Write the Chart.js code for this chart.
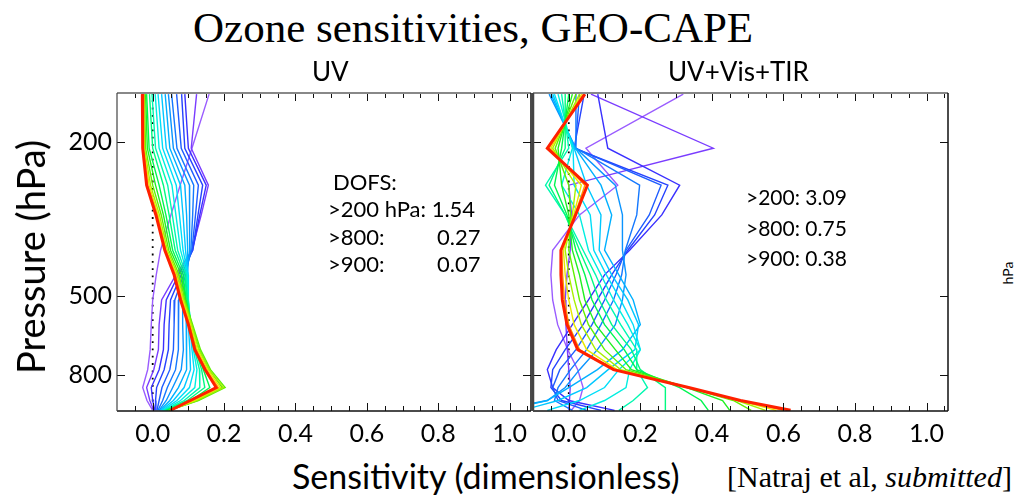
<!DOCTYPE html>
<html>
<head>
<meta charset="utf-8">
<script src="https://cdn.jsdelivr.net/npm/chart.js@4.4.1/dist/chart.umd.min.js"></script>
<style>
  html, body { margin: 0; padding: 0; background: #fff; }
  body { width: 1025px; height: 501px; position: relative; overflow: hidden; font-family: Lato, sans-serif; color: #000; }
  canvas { position: absolute; }
  .txt { position: absolute; white-space: nowrap; line-height: 1; }
  .serif { font-family: 'Liberation Serif', serif; }
  .rot { transform: translate(-50%, -50%) rotate(-90deg); }
</style>
</head>
<body>
<canvas id="uvChart" width="545" height="365" style="left:0; top:85px;"></canvas>
<canvas id="allChart" width="480" height="365" style="left:500px; top:85px;"></canvas>

<div class="txt serif" style="left:193px; top:6px; font-size:43px;">Ozone sensitivities, GEO-CAPE</div>
<div class="txt" style="left:312px; top:58px; font-size:26px;">UV</div>
<div class="txt" style="left:668px; top:58px; font-size:26px;">UV+Vis+TIR</div>

<div class="txt" style="left:333px; top:171px; font-size:22px;">DOFS:</div>
<div class="txt" style="left:328px; top:198px; font-size:22px;">&gt;200 hPa: 1.54</div>
<div class="txt" style="left:328px; top:226px; font-size:22px;">&gt;800:</div>
<div class="txt" style="left:437px; top:226px; font-size:22px;">0.27</div>
<div class="txt" style="left:328px; top:253px; font-size:22px;">&gt;900:</div>
<div class="txt" style="left:437px; top:253px; font-size:22px;">0.07</div>

<div class="txt" style="left:746px; top:186px; font-size:21px;">&gt;200: 3.09</div>
<div class="txt" style="left:746px; top:217px; font-size:21px;">&gt;800: 0.75</div>
<div class="txt" style="left:746px; top:247px; font-size:21px;">&gt;900: 0.38</div>

<div class="txt rot" style="left:30px; top:257px; font-size:38px;">Pressure (hPa)</div>
<div class="txt rot" style="left:1008px; top:273px; font-size:14px;">hPa</div>
<div class="txt" style="left:292px; top:459px; font-size:34px;">Sensitivity (dimensionless)</div>
<div class="txt serif" style="left:727px; top:462px; font-size:30px;">[Natraj et al, <i>submitted</i>]</div>

<script>
// pressure levels (hPa) of the profile vertices, top to bottom
const pressureLevels = [150, 207, 258, 308, 380, 440, 511, 592, 687, 774, 861, 930, 986];
const xTickValues = [0, 0.2, 0.4, 0.6, 0.8, 1.0];
const yTickValues = [200, 500, 800];

// purple -> blue -> cyan -> green -> yellow -> red, last one drawn thick
const lineColors = [
  '#9a5cff', '#7a3cff', '#3a30ff', '#2542ff', '#1e5cff',
  '#1478ff', '#0a94ff', '#00b0ff', '#00c8ff', '#00def8',
  '#00eee0', '#00f8b0', '#00fa80', '#00f550', '#20f020',
  '#60f000', '#a8f000', '#e8e800', '#ffa000', '#ff2000',
];

// UV only, one row per profile, values at pressureLevels
const uvProfiles = [
  [0.158, 0.110, 0.077, 0.051, 0.022, 0.010, 0.000, -0.004, -0.007, -0.014, -0.028, -0.016, 0.000],
  [0.123, 0.108, 0.156, 0.136, 0.110, 0.065, 0.025, 0.018, 0.016, 0.003, -0.017, -0.008, 0.003],
  [0.090, 0.100, 0.150, 0.132, 0.112, 0.072, 0.038, 0.032, 0.030, 0.018, -0.004, 0.000, 0.006],
  [0.081, 0.090, 0.140, 0.127, 0.112, 0.080, 0.050, 0.046, 0.044, 0.032, 0.011, 0.008, 0.009],
  [0.067, 0.080, 0.128, 0.120, 0.110, 0.087, 0.062, 0.060, 0.058, 0.048, 0.026, 0.018, 0.012],
  [0.053, 0.068, 0.115, 0.112, 0.107, 0.092, 0.073, 0.072, 0.072, 0.064, 0.041, 0.028, 0.015],
  [0.044, 0.058, 0.103, 0.104, 0.103, 0.096, 0.084, 0.084, 0.086, 0.080, 0.056, 0.038, 0.018],
  [0.035, 0.048, 0.090, 0.095, 0.098, 0.098, 0.092, 0.094, 0.096, 0.094, 0.072, 0.048, 0.021],
  [0.025, 0.038, 0.078, 0.085, 0.092, 0.099, 0.098, 0.100, 0.104, 0.106, 0.088, 0.058, 0.024],
  [0.015, 0.028, 0.066, 0.075, 0.085, 0.099, 0.100, 0.104, 0.110, 0.116, 0.103, 0.068, 0.027],
  [0.007, 0.018, 0.054, 0.065, 0.078, 0.097, 0.100, 0.106, 0.114, 0.124, 0.118, 0.078, 0.030],
  [-0.002, 0.008, 0.042, 0.055, 0.070, 0.094, 0.099, 0.107, 0.117, 0.131, 0.132, 0.088, 0.033],
  [-0.009, 0.000, 0.030, 0.046, 0.063, 0.090, 0.097, 0.107, 0.120, 0.137, 0.146, 0.097, 0.036],
  [-0.017, -0.010, 0.018, 0.037, 0.056, 0.085, 0.094, 0.106, 0.122, 0.142, 0.160, 0.107, 0.039],
  [-0.020, -0.015, 0.008, 0.030, 0.050, 0.080, 0.092, 0.110, 0.130, 0.158, 0.195, 0.125, 0.044],
  [-0.023, -0.020, 0.000, 0.024, 0.045, 0.074, 0.090, 0.112, 0.134, 0.162, 0.203, 0.128, 0.046],
  [-0.025, -0.023, -0.006, 0.019, 0.041, 0.070, 0.087, 0.109, 0.129, 0.158, 0.198, 0.122, 0.048],
  [-0.027, -0.025, -0.010, 0.015, 0.038, 0.066, 0.084, 0.106, 0.125, 0.154, 0.190, 0.116, 0.049],
  [-0.028, -0.027, -0.014, 0.012, 0.036, 0.063, 0.081, 0.103, 0.121, 0.150, 0.184, 0.110, 0.050],
  [-0.029, -0.028, -0.017, 0.009, 0.034, 0.060, 0.078, 0.100, 0.118, 0.147, 0.178, 0.105, 0.050],
];

// UV+Vis+TIR
const allProfiles = [
  [0.320, 0.048, 0.137, 0.030, -0.045, -0.050, -0.045, -0.031, -0.003, 0.025, 0.040, 0.030, 0.007],
  [0.062, 0.404, 0.000, 0.008, 0.004, -0.005, -0.010, -0.008, -0.004, 0.000, 0.004, 0.002, 0.000],
  [0.081, 0.109, 0.310, 0.260, 0.170, 0.100, 0.055, 0.010, -0.035, -0.060, -0.045, 0.000, 0.128],
  [0.043, 0.015, 0.277, 0.240, 0.165, 0.120, 0.080, 0.040, -0.010, -0.045, -0.050, -0.020, 0.090],
  [0.030, 0.018, 0.258, 0.225, 0.160, 0.132, 0.100, 0.065, 0.020, -0.025, -0.045, -0.030, 0.050],
  [0.020, 0.020, 0.198, 0.190, 0.158, 0.148, 0.125, 0.090, 0.050, 0.005, -0.030, -0.040, 0.010],
  [-0.055, 0.020, 0.130, 0.150, 0.150, 0.160, 0.150, 0.130, 0.080, 0.030, -0.010, -0.060, -0.200],
  [-0.050, 0.018, 0.090, 0.120, 0.100, 0.140, 0.180, 0.200, 0.150, 0.080, 0.000, -0.060, -0.180],
  [-0.045, 0.015, 0.050, 0.090, 0.085, 0.120, 0.165, 0.195, 0.185, 0.110, 0.050, -0.030, -0.130],
  [-0.040, 0.012, 0.015, 0.060, 0.070, 0.105, 0.145, 0.180, 0.200, 0.140, 0.100, 0.030, -0.060],
  [-0.030, 0.010, -0.020, 0.030, 0.055, 0.090, 0.125, 0.165, 0.200, 0.170, 0.160, 0.100, 0.030],
  [-0.020, 0.000, -0.065, -0.010, 0.040, 0.075, 0.105, 0.145, 0.190, 0.190, 0.220, 0.180, 0.140],
  [-0.010, -0.010, -0.055, -0.010, 0.030, 0.060, 0.085, 0.120, 0.175, 0.200, 0.270, 0.270, 0.270],
  [0.000, -0.020, -0.040, -0.005, 0.020, 0.045, 0.065, 0.100, 0.155, 0.190, 0.310, 0.370, 0.390],
  [0.010, -0.030, -0.020, 0.000, 0.010, 0.030, 0.045, 0.075, 0.130, 0.175, 0.330, 0.430, 0.450],
  [0.020, -0.038, 0.000, 0.005, 0.000, 0.015, 0.030, 0.055, 0.100, 0.160, 0.335, 0.460, 0.510],
  [0.030, -0.045, 0.020, 0.010, -0.010, 0.000, 0.015, 0.035, 0.075, 0.145, 0.335, 0.470, 0.550],
  [0.036, -0.050, 0.035, 0.014, -0.015, -0.010, 0.000, 0.015, 0.050, 0.135, 0.335, 0.475, 0.580],
  [0.041, -0.055, 0.045, 0.017, -0.020, -0.017, -0.012, 0.000, 0.030, 0.130, 0.335, 0.478, 0.600],
  [0.045, -0.060, 0.052, 0.019, -0.022, -0.022, -0.018, -0.005, 0.025, 0.125, 0.335, 0.480, 0.620],
];

const X_MIN = -0.1;
const X_MAX = 1.06;
const P_TOP = 149;
const P_BOTTOM = 990;

Chart.defaults.font.family = 'Lato, sans-serif';
Chart.defaults.color = '#000';

function toPoints(profile) {
  return profile.map((v, k) => ({ x: v, y: pressureLevels[k] }));
}

function buildDatasets(profiles) {
  const sets = profiles.map((profile, i) => {
    const last = i === profiles.length - 1;
    return {
      data: toPoints(profile),
      borderColor: lineColors[i],
      borderWidth: last ? 3 : 1.4,
      pointRadius: 0,
      tension: 0,
      fill: false,
      order: profiles.length - i,
    };
  });
  // dotted zero line
  sets.push({
    data: [{ x: 0, y: P_TOP }, { x: 0, y: P_BOTTOM }],
    borderColor: '#000',
    borderWidth: 1.8,
    borderDash: [1.8, 5.5],
    pointRadius: 0,
    order: 100,
  });
  return sets;
}

// inward tick marks + box, drawn over the curves
const panelFrame = {
  id: 'panelFrame',
  afterDatasetsDraw(chart, args, opts) {
    const { ctx, chartArea: area } = chart;
    const xs = chart.scales.x;
    const ys = chart.scales.y;
    ctx.save();
    ctx.strokeStyle = '#111';
    ctx.lineWidth = 1;
    ctx.beginPath();
    for (let k = -1; k <= 21; k += 1) {
      const v = k * 0.05;
      if (v < X_MIN || v > X_MAX) continue;
      const px = Math.round(xs.getPixelForValue(v)) + 0.5;
      const len = k % 4 === 0 ? 8 : 5;
      ctx.moveTo(px, area.bottom);
      ctx.lineTo(px, area.bottom - len);
      ctx.moveTo(px, area.top);
      ctx.lineTo(px, area.top + len);
    }
    yTickValues.forEach((p) => {
      const py = Math.round(ys.getPixelForValue(p)) + 0.5;
      ctx.moveTo(area.left, py);
      ctx.lineTo(area.left + 8, py);
      ctx.moveTo(area.right, py);
      ctx.lineTo(area.right - 8, py);
    });
    ctx.stroke();

    ctx.lineWidth = 2;
    ctx.strokeStyle = '#888';
    ctx.beginPath();
    ctx.moveTo(area.left, area.top);
    ctx.lineTo(area.right, area.top);
    ctx.stroke();

    ctx.lineWidth = 1.5;
    ctx.strokeStyle = '#111';
    ctx.beginPath();
    ctx.moveTo(area.left, area.bottom);
    ctx.lineTo(area.right, area.bottom);
    ctx.moveTo(area.right, area.top);
    ctx.lineTo(area.right, area.bottom);
    ctx.stroke();

    ctx.lineWidth = opts.leftWidth || 1.2;
    ctx.strokeStyle = opts.leftColor || '#444';
    ctx.beginPath();
    ctx.moveTo(area.left, area.top);
    ctx.lineTo(area.left, area.bottom);
    ctx.stroke();
    ctx.restore();
  },
};

function makeChart(id, profiles, yAxisWidth, rightPad, showYLabels, leftWidth) {
  return new Chart(document.getElementById(id), {
    type: 'line',
    data: { datasets: buildDatasets(profiles) },
    options: {
      responsive: false,
      animation: false,
      events: [],
      layout: { padding: { top: 8, right: rightPad, bottom: 0, left: 0 } },
      plugins: {
        legend: { display: false },
        tooltip: { enabled: false },
        panelFrame: { leftWidth, leftColor: '#444' },
      },
      scales: {
        x: {
          type: 'linear',
          min: X_MIN,
          max: X_MAX,
          grid: { display: false, drawTicks: false },
          border: { display: false },
          ticks: {
            font: { size: 25 },
            color: '#000',
            padding: 8,
            maxRotation: 0,
            callback: (v) => Number(v).toFixed(1),
          },
          afterBuildTicks: (scale) => { scale.ticks = xTickValues.map((v) => ({ value: v })); },
          afterFit: (scale) => {
            scale.height = 39;
            scale.paddingLeft = 0;
            scale.paddingRight = 0;
          },
        },
        y: {
          type: 'logarithmic',
          min: P_TOP,
          max: P_BOTTOM,
          reverse: true,
          grid: { display: false, drawTicks: false },
          border: { display: false },
          ticks: {
            display: showYLabels,
            font: { size: 25 },
            color: '#000',
            padding: 5,
            callback: (v) => String(v),
          },
          afterBuildTicks: (scale) => { scale.ticks = yTickValues.map((v) => ({ value: v })); },
          afterFit: (scale) => {
            scale.width = yAxisWidth;
            scale.paddingTop = 0;
            scale.paddingBottom = 0;
          },
        },
      },
    },
    plugins: [panelFrame],
  });
}

makeChart('uvChart', uvProfiles, 117, 14, true, 1.2);
makeChart('allChart', allProfiles, 33, 32, false, 2.5);
</script>
</body>
</html>
